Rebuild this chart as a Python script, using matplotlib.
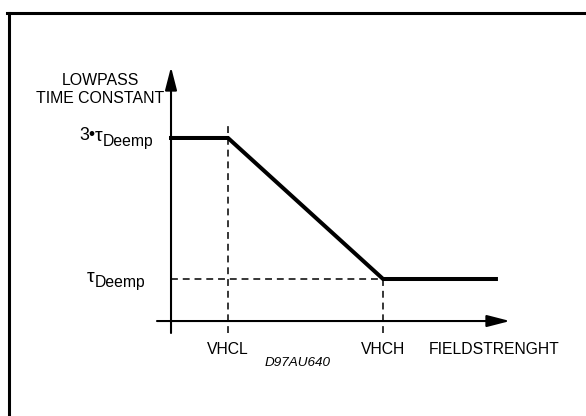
import matplotlib
matplotlib.use("Agg")
from matplotlib import pyplot as plt
from matplotlib.lines import Line2D

plt.rcParams["font.family"] = ["Liberation Sans", "DejaVu Sans"]

# field strength breakpoints (arbitrary units) and time constant (x tau_Deemp)
VHCL = 1.0
VHCH = 3.72
F_END = 5.70
field = [0.0, VHCL, VHCH, F_END]
tconst = [3.0, 3.0, 1.0, 1.0]
x_ticks = [VHCL, VHCH]
x_tick_labels = ["VHCL", "VHCH"]
y_ticks = [3.0, 1.0]
y_tick_prefix = ["3•", ""]
y_tick_greek = ["τ", "τ"]
y_tick_sub = ["Deemp", "Deemp"]

fig = plt.figure(figsize=(5.86, 4.16), dpi=100)
ax = fig.add_axes([0, 0, 1, 1])
ax.set_xlim(-3.0, 7.28)
ax.set_ylim(-0.943, 4.957)
ax.axis("off")

x_axis_y = 0.404
y_axis_bottom = 0.234

# axes with arrows
arrow = dict(arrowstyle="-|>,head_length=1.4,head_width=0.36", lw=1.5,
             color="black", shrinkA=0, shrinkB=0, mutation_scale=10)
ax.annotate("", xy=(5.947, x_axis_y), xytext=(-0.246, x_axis_y), arrowprops=arrow)
ax.annotate("", xy=(0, 4.007), xytext=(0, y_axis_bottom), arrowprops=arrow)

# dashed guide lines
dash = dict(color="black", lw=1.1, linestyle=(0, (4.5, 3.2)))
ax.plot([VHCL, VHCL], [y_axis_bottom, 3.17], **dash)
ax.plot([VHCH, VHCH], [y_axis_bottom, tconst[2]], **dash)
ax.plot([0, VHCH], [tconst[2], tconst[2]], **dash)

# curve
ax.plot(field, tconst, color="black", lw=2.9, solid_joinstyle="miter")

# labels
ax.text(-1.246, 3.688, "LOWPASS\nTIME CONSTANT", ha="center", va="center",
        fontsize=11.4, linespacing=1.2)

# y tick labels: subscript placed first, tau and prefix chained to its left
sub_right = [-0.316, -0.456]
sub_base = [y_ticks[0] - 0.113, y_ticks[1] - 0.113]
for pre, greek, sub, xr, yb in zip(y_tick_prefix, y_tick_greek, y_tick_sub,
                                   sub_right, sub_base):
    s = ax.text(xr, yb, sub, ha="right", va="baseline", fontsize=11.3)
    g = ax.annotate(greek, xy=(0, 0), xycoords=s, xytext=(0.3, 6.0),
                    textcoords="offset points", ha="right", va="baseline",
                    fontsize=14)
    if pre:
        ax.annotate(pre, xy=(0, 0), xycoords=g, xytext=(0, 3.0),
                    textcoords="offset points", ha="right", va="baseline",
                    fontsize=12.8)

for xt, lab in zip(x_ticks, x_tick_labels):
    ax.text(xt, 0.007, lab, ha="center", va="center", fontsize=11.3)
ax.text(4.526, 0.007, "FIELDSTRENGHT", ha="left", va="center", fontsize=11.3)
ax.text(2.228, -0.191, "D97AU640", ha="center", va="center", fontsize=9.7,
        style="italic")

# frame (top and left edges)
fig.add_artist(Line2D([7 / 586, 1], [1 - 12.5 / 416, 1 - 12.5 / 416],
                      color="black", lw=2.2))
fig.add_artist(Line2D([8.5 / 586, 8.5 / 586], [0, 1 - 12.5 / 416],
                      color="black", lw=2.2))

fig.savefig("out.png", dpi=100)
